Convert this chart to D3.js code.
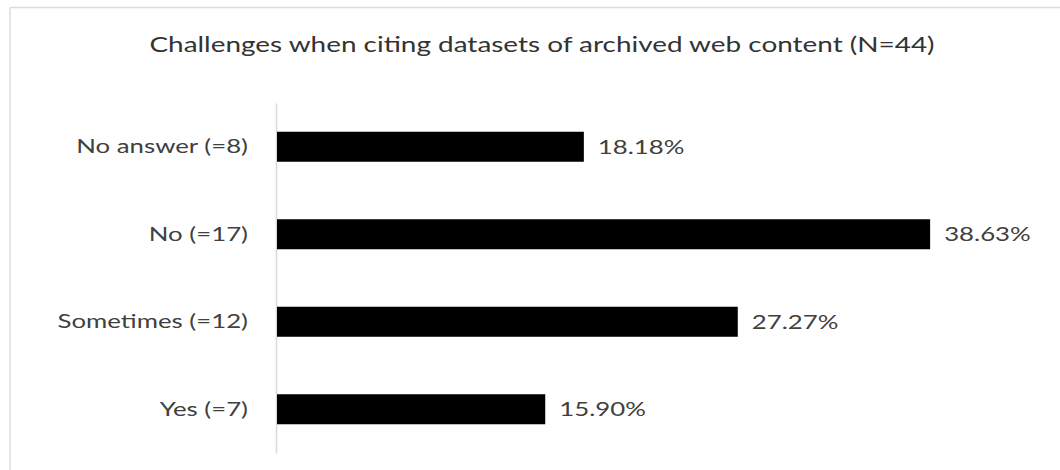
<!DOCTYPE html>
<html>
<head>
<meta charset="utf-8">
<script src="https://cdn.jsdelivr.net/npm/d3@7"></script>
<style>
  html, body { margin: 0; padding: 0; background: #fff; }
  svg { display: block; }
  text { font-family: Lato, "Open Sans", sans-serif; }
</style>
</head>
<body>
<svg id="chart" width="1060" height="470"></svg>
<script>
// Survey answers, top to bottom
const categories = ["No answer (=8)", "No (=17)", "Sometimes (=12)", "Yes (=7)"];
const shares = [18.18, 38.63, 27.27, 15.90];
const valueLabels = ["18.18%", "38.63%", "27.27%", "15.90%"];
const title = "Challenges when citing datasets of archived web content (N=44)";

const svg = d3.select("#chart");
const W = 1060, H = 470;
const stretch = 1.29; // wide-set lettering

// Chart frame (top and left edges)
svg.append("line").attr("x1", 10).attr("x2", W).attr("y1", 7.5).attr("y2", 7.5)
  .attr("stroke", "#dcdcdc").attr("stroke-width", 1.5);
svg.append("line").attr("x1", 10).attr("x2", 10).attr("y1", 7.5).attr("y2", H)
  .attr("stroke", "#dcdcdc").attr("stroke-width", 1.5);

// Title
svg.append("text")
  .attr("transform", `translate(542,52) scale(1.33,1)`)
  .attr("text-anchor", "middle")
  .attr("fill", "#333")
  .attr("font-size", 21)
  .text(title);

const data = categories.map((c, i) => ({ cat: c, v: shares[i], label: valueLabels[i] }));

const x = d3.scaleLinear().domain([0, 45]).range([276, 1038]);
const gap = 0.657;
const y = d3.scaleBand().domain(categories).range([103, 453])
  .paddingInner(gap).paddingOuter(gap / 2);

// Category axis
const yAxis = d3.axisLeft(y).tickSize(0).tickPadding(28);
const gy = svg.append("g").attr("transform", `translate(${x(0)},0)`).call(yAxis);
gy.select(".domain").attr("stroke", "#d9d9d9").attr("stroke-width", 1.5);
gy.selectAll(".tick text")
  .attr("x", 0)
  .attr("transform", `translate(-28,0) scale(${stretch},1)`)
  .attr("font-size", 20)
  .attr("fill", "#404040")
  .style("font-family", "Lato, 'Open Sans', sans-serif");

// Bars
svg.append("g").selectAll("rect").data(data).join("rect")
  .attr("x", x(0) + 1)
  .attr("y", d => y(d.cat))
  .attr("width", d => x(d.v) - x(0) - 1)
  .attr("height", y.bandwidth())
  .attr("fill", "#000");

// Value labels
svg.append("g").selectAll("text").data(data).join("text")
  .attr("transform", d => `translate(${x(d.v) + 14},${y(d.cat) + y.bandwidth() / 2}) scale(${stretch},1)`)
  .attr("dy", "0.35em")
  .attr("font-size", 20)
  .attr("fill", "#404040")
  .text(d => d.label);
</script>
</body>
</html>
